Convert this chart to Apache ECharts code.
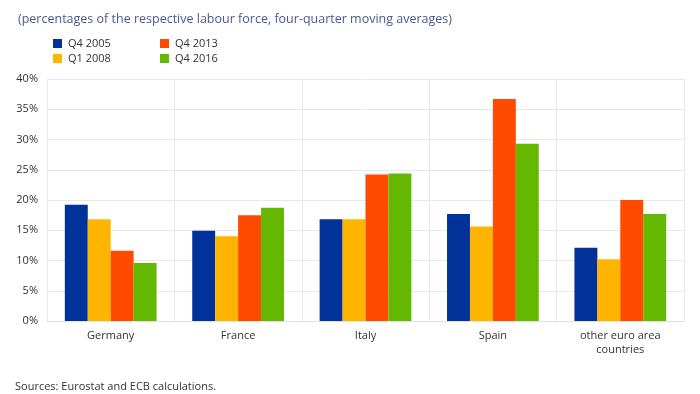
<!DOCTYPE html>
<html>
<head>
<meta charset="utf-8">
<script src="https://cdn.jsdelivr.net/npm/echarts@6/dist/echarts.min.js"></script>
<style>html,body{margin:0;padding:0;background:#fff;}#c{width:700px;height:394px;}</style>
</head>
<body>
<div id="c"></div>
<script>
const categories = ['Germany', 'France', 'Italy', 'Spain', 'other euro area\ncountries'];
const seriesNames = ['Q4 2005', 'Q1 2008', 'Q4 2013', 'Q4 2016'];
const q4_2005 = [19.2, 14.9, 16.8, 17.7, 12.1];
const q1_2008 = [16.8, 14.0, 16.8, 15.6, 10.2];
const q4_2013 = [11.6, 17.5, 24.2, 36.7, 20.0];
const q4_2016 = [9.6, 18.7, 24.4, 29.3, 17.7];
const colors = ['#003299', '#FFB400', '#FF4B00', '#65B800'];
const values = [q4_2005, q1_2008, q4_2013, q4_2016];

const font = '"Open Sans", "Noto Sans", sans-serif';
const chart = echarts.init(document.getElementById('c'));
chart.setOption({
  animation: false,
  textStyle: { fontFamily: font },
  title: [
    { text: '(percentages of the respective labour force, four-quarter moving averages)', left: 13, top: 8,
      textStyle: { fontFamily: font, fontSize: 12.5, fontWeight: 'normal', color: '#4a5990' } },
    { text: 'Sources: Eurostat and ECB calculations.', left: 10, top: 376,
      textStyle: { fontFamily: font, fontSize: 11, fontWeight: 'normal', color: '#333' } }
  ],
  legend: [
    { data: seriesNames.slice(0, 2), orient: 'vertical', left: 48, top: 33, itemWidth: 9, itemHeight: 9, itemGap: 4,
      icon: 'rect', textStyle: { fontFamily: font, fontSize: 11, color: '#333', padding: [0, 0, 0, 1] } },
    { data: seriesNames.slice(2, 4), orient: 'vertical', left: 155, top: 33, itemWidth: 9, itemHeight: 9, itemGap: 4,
      icon: 'rect', textStyle: { fontFamily: font, fontSize: 11, color: '#333', padding: [0, 0, 0, 1] } }
  ],
  grid: { left: 47, right: 16, top: 79, bottom: 73, containLabel: false },
  xAxis: {
    type: 'category', data: categories,
    axisLine: { show: true, lineStyle: { color: '#e0e0e0' } },
    axisTick: { show: false },
    splitLine: { show: true, lineStyle: { color: '#e8e8e8' } },
    axisLabel: { fontFamily: font, fontSize: 11, color: '#333', margin: 8, lineHeight: 14 }
  },
  yAxis: {
    type: 'value', min: 0, max: 40, interval: 5,
    axisLine: { show: false }, axisTick: { show: false },
    splitLine: { lineStyle: { color: '#e8e8e8' } },
    axisLabel: { fontFamily: font, fontSize: 11, color: '#333', formatter: '{value}%', margin: 9 }
  },
  series: seriesNames.map((n, i) => ({
    name: n, type: 'bar', data: values[i], barGap: '0%', barCategoryGap: '28%',
    itemStyle: { color: colors[i] }
  }))
});
</script>
</body>
</html>
